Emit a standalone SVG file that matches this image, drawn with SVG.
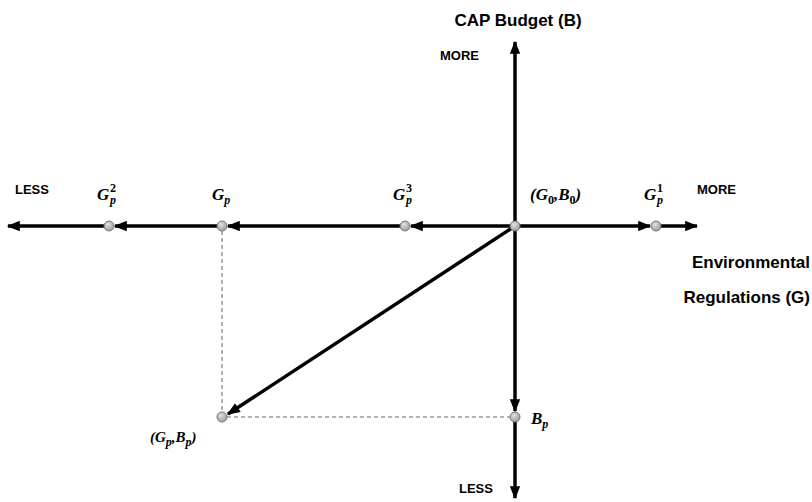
<svg xmlns="http://www.w3.org/2000/svg" width="812" height="502" viewBox="0 0 812 502">
<style>
.ax{stroke:#000;stroke-width:3.5;fill:none}
.ds{stroke:#666;stroke-width:1;stroke-dasharray:4,3;fill:none}
.nd{fill:url(#g);stroke:#777;stroke-width:1}
.lb{font-family:"Liberation Sans",Arial,sans-serif;font-weight:bold;fill:#000}
.m{font-family:"Liberation Serif","DejaVu Serif",serif;font-weight:bold;font-style:italic;fill:#000}
.s{font-size:12px}
.u{font-style:normal}
</style>
<defs>
<radialGradient id="g" cx="0.4" cy="0.35" r="0.7"><stop offset="0" stop-color="#e0e0e0"/><stop offset="1" stop-color="#999"/></radialGradient>
<marker id="a" viewBox="0 0 10 8" refX="9" refY="4" markerWidth="3.8" markerHeight="3" orient="auto" markerUnits="strokeWidth"><path d="M0,0L10,4L0,8z" fill="#000"/></marker>
</defs>
<g id="connectors">
<line class="ax" x1="515" y1="226" x2="411" y2="226" marker-end="url(#a)"/>
<line class="ax" x1="405" y1="226" x2="228" y2="226" marker-end="url(#a)"/>
<line class="ax" x1="222" y1="226" x2="115" y2="226" marker-end="url(#a)"/>
<line class="ax" x1="109" y1="226" x2="8" y2="226" marker-end="url(#a)"/>
<line class="ax" x1="515" y1="226" x2="650" y2="226" marker-end="url(#a)"/>
<line class="ax" x1="656" y1="226" x2="697" y2="226" marker-end="url(#a)"/>
<line class="ax" x1="515" y1="226" x2="515" y2="42" marker-end="url(#a)"/>
<line class="ax" x1="515" y1="226" x2="515" y2="411" marker-end="url(#a)"/>
<line class="ax" x1="515" y1="417" x2="515" y2="498" marker-end="url(#a)"/>
<line class="ax" x1="515" y1="226" x2="228" y2="414" marker-end="url(#a)"/>
<line class="ds" x1="222" y1="231" x2="222" y2="412"/>
<line class="ds" x1="227" y1="417" x2="510" y2="417"/>
</g>
<g id="n-origin"><circle class="nd" cx="515" cy="226" r="5"/><text class="m" x="530" y="200" font-size="17">(G<tspan class="s u" dy="4">0</tspan><tspan dy="-4">,B</tspan><tspan class="s u" dy="4">0</tspan><tspan dy="-4">)</tspan></text></g>
<g id="n-gp3"><circle class="nd" cx="405" cy="226" r="5"/><text class="m" x="393" y="200" font-size="17">G<tspan class="s" x="406" dy="4">p</tspan><tspan class="s u" x="406" dy="-12">3</tspan></text></g>
<g id="n-gp"><circle class="nd" cx="222" cy="226" r="5"/><text class="m" x="212" y="200" font-size="17">G<tspan class="s" dy="4">p</tspan></text></g>
<g id="n-gp2"><circle class="nd" cx="109" cy="226" r="5"/><text class="m" x="97" y="200" font-size="17">G<tspan class="s" x="110" dy="4">p</tspan><tspan class="s u" x="110" dy="-12">2</tspan></text></g>
<g id="n-gp1"><circle class="nd" cx="656" cy="226" r="5"/><text class="m" x="644" y="200" font-size="17">G<tspan class="s" x="657" dy="4">p</tspan><tspan class="s u" x="657" dy="-12">1</tspan></text></g>
<g id="n-gpbp"><circle class="nd" cx="222" cy="417" r="5"/><text class="m" x="150" y="442" font-size="15">(G<tspan class="s" dy="4">p</tspan><tspan dy="-4">,B</tspan><tspan class="s" dy="4">p</tspan><tspan dy="-4">)</tspan></text></g>
<g id="n-bp"><circle class="nd" cx="515" cy="417" r="5"/><text class="m" x="531" y="424" font-size="17">B<tspan class="s" dy="4">p</tspan></text></g>
<g id="labels">
<text class="lb" x="518" y="26" font-size="17" text-anchor="middle">CAP Budget (B)</text>
<text class="lb" x="440" y="60" font-size="13">MORE</text>
<text class="lb" x="15" y="194" font-size="13">LESS</text>
<text class="lb" x="697" y="194" font-size="13">MORE</text>
<text class="lb" x="810" y="268" font-size="17" text-anchor="end">Environmental</text>
<text class="lb" x="810" y="303" font-size="17" text-anchor="end">Regulations (G)</text>
<text class="lb" x="459" y="493" font-size="13">LESS</text>
</g>
</svg>
